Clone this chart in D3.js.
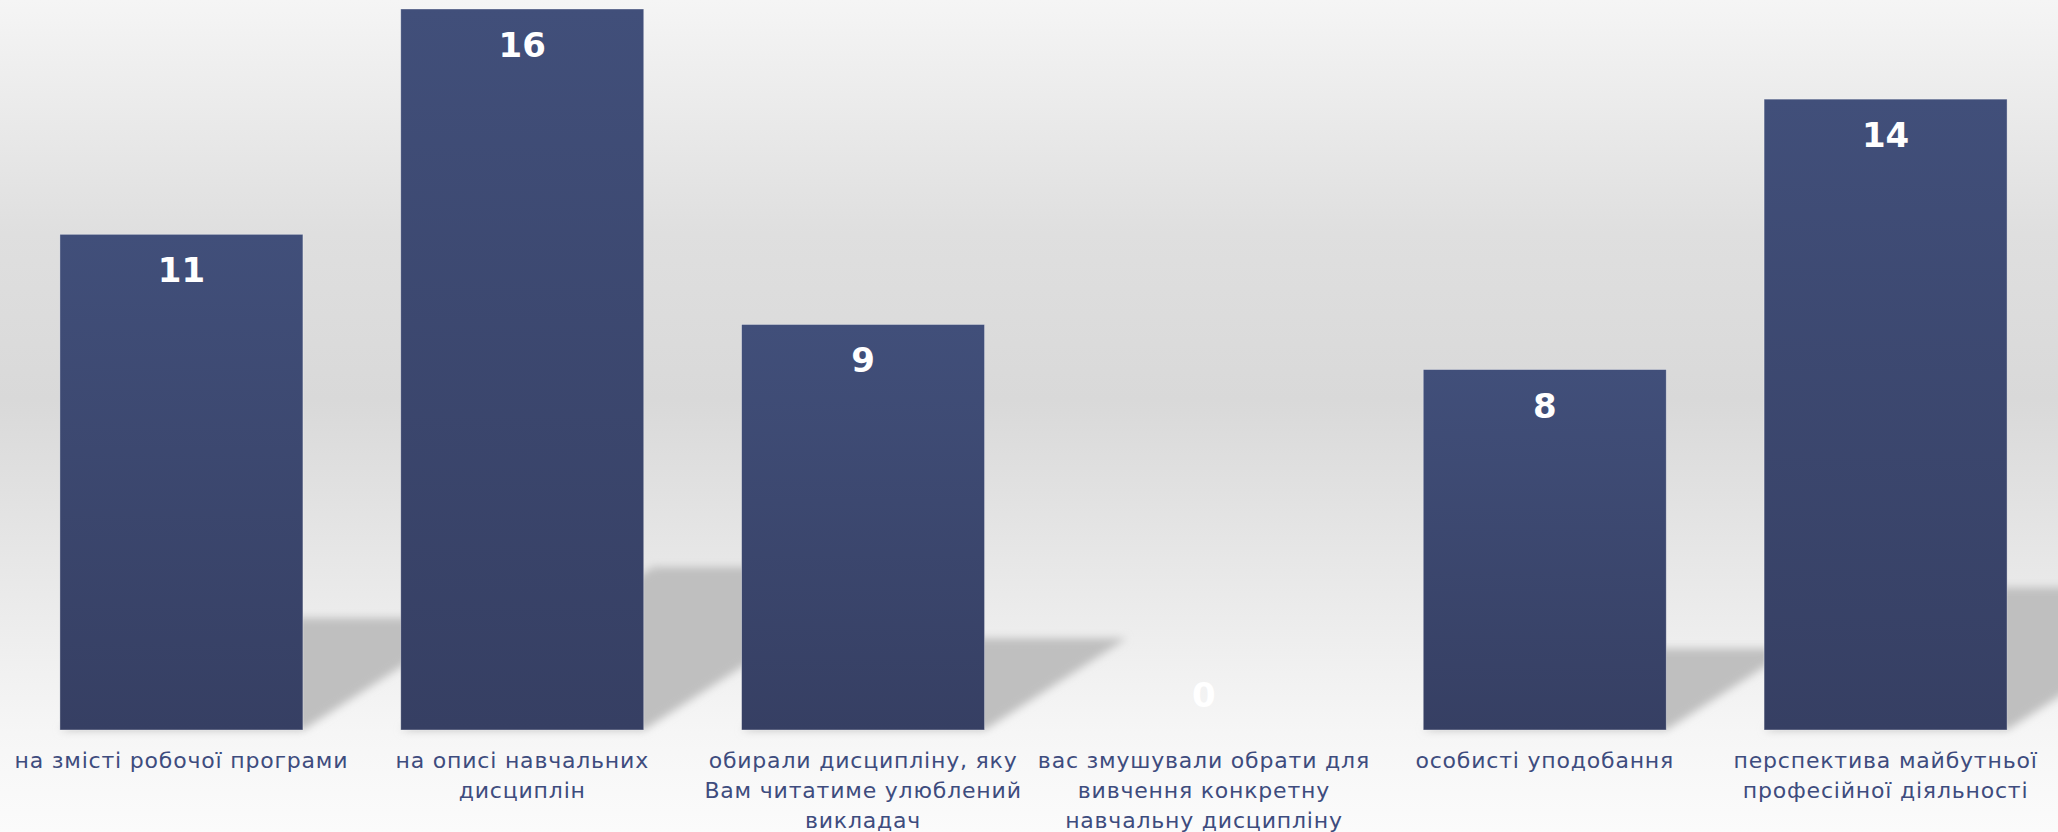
<!DOCTYPE html>
<html>
<head>
<meta charset="utf-8">
<script src="https://cdnjs.cloudflare.com/ajax/libs/d3/7.8.5/d3.min.js"></script>
<style>
  body { margin: 0; }
  svg { display: block; }
</style>
</head>
<body>
<div id="chart"></div>
<script>
const categories = [
  'на змісті робочої програми',
  'на описі навчальних\nдисциплін',
  'обирали дисципліну, яку\nВам читатиме улюблений\nвикладач',
  'вас змушували обрати для\nвивчення конкретну\nнавчальну дисципліну',
  'особисті уподобання',
  'перспектива майбутньої\nпрофесійної діяльності'
];
const values = [11, 16, 9, 0, 8, 14];

const WIDTH = 2058;
const HEIGHT = 832;
const BASE = 730;
const TOP = 9;

const svg = d3.select('#chart')
  .append('svg')
  .attr('width', WIDTH)
  .attr('height', HEIGHT);

const defs = svg.append('defs');

// page background: light at top and bottom, darker grey in the middle
const bg = defs.append('linearGradient')
  .attr('id', 'bg')
  .attr('x1', 0).attr('y1', 0).attr('x2', 0).attr('y2', 1);
bg.append('stop').attr('offset', '0%').attr('stop-color', '#f5f5f5');
bg.append('stop').attr('offset', '28%').attr('stop-color', '#dfdfdf');
bg.append('stop').attr('offset', '48%').attr('stop-color', '#d9d9d9');
bg.append('stop').attr('offset', '88%').attr('stop-color', '#f6f6f6');
bg.append('stop').attr('offset', '100%').attr('stop-color', '#fbfbfb');

const barGrad = defs.append('linearGradient')
  .attr('id', 'bar')
  .attr('x1', 0).attr('y1', 0).attr('x2', 0).attr('y2', 1);
barGrad.append('stop').attr('offset', '0%').attr('stop-color', '#414f7a');
barGrad.append('stop').attr('offset', '100%').attr('stop-color', '#363f63');

defs.append('filter')
  .attr('id', 'blur')
  .attr('x', '-20%').attr('y', '-20%').attr('width', '140%').attr('height', '140%')
  .append('feGaussianBlur')
  .attr('stdDeviation', 4);

svg.append('rect')
  .attr('width', WIDTH)
  .attr('height', HEIGHT)
  .attr('fill', 'url(#bg)');

const x = d3.scaleBand()
  .domain(categories)
  .range([11, 2056])
  .paddingInner(0.287)
  .paddingOuter(0.1435);

const y = d3.scaleLinear()
  .domain([0, 16])
  .range([BASE, TOP]);

const data = categories.map((c, i) => ({ name: c, value: values[i] }));

// perspective shadows lying on the floor behind the bars
const shadowK = 0.226;
const shadowSkew = 1.55;
svg.append('g')
  .selectAll('path')
  .data(data.filter(d => d.value > 0))
  .enter().append('path')
  .attr('d', d => {
    const h = (BASE - y(d.value)) * shadowK;
    const x0 = x(d.name);
    const x1 = x0 + x.bandwidth();
    const dx = h * shadowSkew;
    return `M${x0},${BASE}L${x1},${BASE}L${x1 + dx},${BASE - h}L${x0 + dx},${BASE - h}Z`;
  })
  .attr('fill', '#bfbfbf')
  .attr('filter', 'url(#blur)');

svg.append('g')
  .selectAll('rect')
  .data(data)
  .enter().append('rect')
  .attr('x', d => x(d.name))
  .attr('y', d => y(d.value))
  .attr('width', x.bandwidth())
  .attr('height', d => BASE - y(d.value))
  .attr('fill', 'url(#bar)')
  .attr('stroke', 'rgba(255,255,255,0.45)')
  .attr('stroke-width', 0.8);

// value labels, inside the top of each bar
svg.append('g')
  .selectAll('text')
  .data(data)
  .enter().append('text')
  .attr('x', d => x(d.name) + x.bandwidth() / 2)
  .attr('y', d => d.value > 0 ? y(d.value) + 48 : BASE - 23)
  .attr('text-anchor', 'middle')
  .attr('font-family', 'DejaVu Sans')
  .attr('font-weight', 'bold')
  .attr('font-size', 34)
  .attr('fill', '#ffffff')
  .text(d => d.value);

// category labels
const xAxis = svg.append('g');
categories.forEach(c => {
  const t = xAxis.append('text')
    .attr('x', x(c) + x.bandwidth() / 2)
    .attr('y', 768)
    .attr('text-anchor', 'middle')
    .attr('font-family', 'DejaVu Sans')
    .attr('font-size', 22)
    .attr('letter-spacing', 0.8)
    .attr('fill', '#3e4c7e');
  c.split('\n').forEach((line, i) => {
    t.append('tspan')
      .attr('x', x(c) + x.bandwidth() / 2)
      .attr('dy', i === 0 ? 0 : 30)
      .text(line);
  });
});
</script>
</body>
</html>
